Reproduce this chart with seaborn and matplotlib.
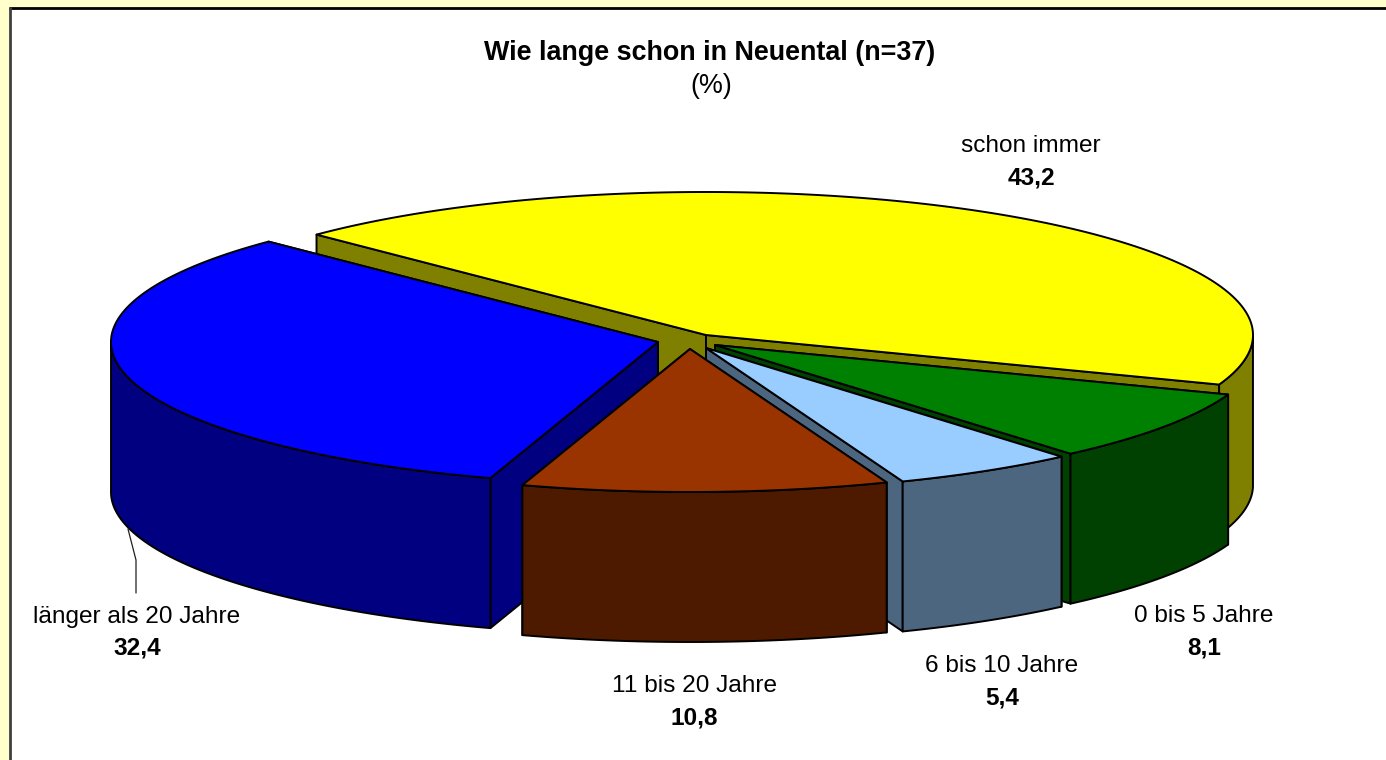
import numpy as np
import matplotlib
matplotlib.use("Agg")
import matplotlib.pyplot as plt
import seaborn as sns

# Data
categories = ["schon immer", "0 bis 5 Jahre", "6 bis 10 Jahre", "11 bis 20 Jahre", "länger als 20 Jahre"]
values = [43.2, 8.1, 5.4, 10.8, 32.4]
value_labels = ["43,2", "8,1", "5,4", "10,8", "32,4"]
title = "Wie lange schon in Neuental (n=37)"
subtitle = "(%)"

# Style
top_colors = ["#FFFF00", "#008000", "#99CCFF", "#993300", "#0000FF"]
side_colors = ["#808000", "#004000", "#4D6680", "#4D1A00", "#000080"]
explode_x = [0, 9, 0, -16, -48]
explode_y = [0, 10, 13, 14, 7]
draw_order = [0, 1, 2, 4, 3]
label_x = [1031, 1204, 1002, 694, 137]
label_y = [145.5, 616.5, 665.5, 686.5, 616.5]
CX, CY, RX, RY, DEPTH = 706, 335, 547, 143, 150
START_DEG = 135.4

sns.set_theme(style="white", font="Liberation Sans")
plt.rcParams["font.family"] = ["Liberation Sans", "DejaVu Sans"]
palette = sns.color_palette(top_colors)
palette_dark = sns.color_palette(side_colors)

fig = plt.figure(figsize=(13.86, 7.6), dpi=100, facecolor="#FFFFCC")
ax = fig.add_axes([0, 0, 1, 1])
ax.set_xlim(0, 1386)
ax.set_ylim(760, 0)
ax.axis("off")

# chart area
ax.fill([9, 1386, 1386, 9], [8, 8, 760, 760], color="white", lw=0, zorder=0)
ax.plot([9, 1386], [7.5, 7.5], color="black", lw=2, zorder=1, solid_capstyle="butt")
ax.plot([9.5, 9.5], [7, 760], color="#404040", lw=2, zorder=1, solid_capstyle="butt")

# slice angles, clockwise from the start angle
sweep = np.array(values) / np.sum(values) * 360
ends = START_DEG - np.cumsum(sweep)
starts = ends + sweep

LW = 1.4
z = 2


def poly(xs, ys, color):
    global z
    ax.fill(xs, ys, facecolor=color, edgecolor="black", lw=LW, joinstyle="round", zorder=z)
    z += 1


for i in draw_order:
    tx, ty = CX + explode_x[i], CY + explode_y[i]
    a0, a1 = starts[i], ends[i]
    th = np.radians(np.linspace(a1, a0, 200))
    ex = tx + RX * np.cos(th)
    ey = ty - RY * np.sin(th)
    # radial cut faces, the one further back first
    for k in sorted((-1, 0), key=lambda n: ey[n]):
        poly([tx, ex[k], ex[k], tx], [ty, ey[k], ey[k] + DEPTH, ty + DEPTH], palette_dark[i])
    # outer wall (front half only)
    front = np.sin(th) <= 0
    if front.any():
        fx, fy = ex[front], ey[front]
        poly(np.r_[fx, fx[::-1]], np.r_[fy, fy[::-1] + DEPTH], palette_dark[i])
    # top
    poly(np.r_[tx, ex], np.r_[ty, ey], palette[i])

# leader line
ax.plot([128, 136, 136], [529, 560, 593], color="#202020", lw=0.9, zorder=z)

# text
FS = 17.6
FS_TITLE = 19.4
ax.text(710, 52.5, title, ha="center", va="center", fontsize=FS_TITLE, fontweight="bold", color="black", zorder=z)
ax.text(711, 86, subtitle, ha="center", va="center", fontsize=FS_TITLE, color="black", zorder=z)
for c, v, x, y in zip(categories, value_labels, label_x, label_y):
    ax.text(x, y, c, ha="center", va="center", fontsize=FS, color="black", zorder=z)
    ax.text(x, y + 32, v, ha="center", va="center", fontsize=FS, fontweight="bold", color="black", zorder=z)

fig.savefig("out.png", dpi=100, facecolor=fig.get_facecolor())
